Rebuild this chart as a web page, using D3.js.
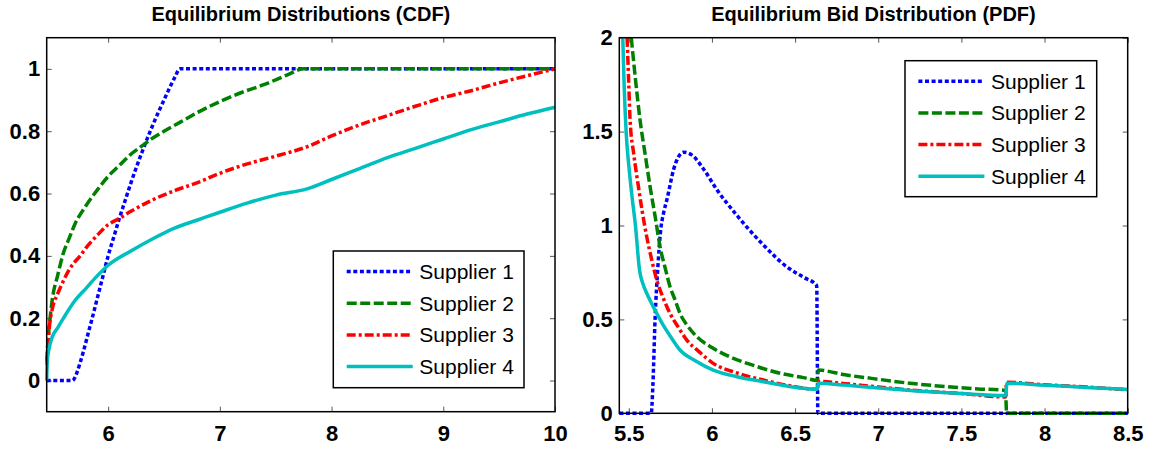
<!DOCTYPE html>
<html lang="en">
<head>
<meta charset="utf-8">
<title>Equilibrium Distributions</title>
<script src="https://d3js.org/d3.v7.min.js"></script>
<style>
  body { margin: 0; background: #fff; }
  svg text { font-family: "Liberation Sans", Arial, sans-serif; fill: #000; }
</style>
</head>
<body>
<div id="chart"></div>
<script>
// series names, one per supplier
const supplierNames = ["Supplier 1", "Supplier 2", "Supplier 3", "Supplier 4"];

// CDF panel: [bid, cumulative probability]
const cdfSupplier1 = [[5.45,0],[5.68,0],[5.70,0.008],[5.72,0.025],[5.75,0.058],[5.78,0.095],[5.82,0.15],[5.85,0.19],[5.9,0.26],[5.95,0.33],[6.0,0.40],[6.05,0.46],[6.1,0.52],[6.15,0.575],[6.2,0.63],[6.3,0.73],[6.4,0.82],[6.5,0.90],[6.6,0.975],[6.64,1.0],[10,1.0]];
const cdfSupplier2 = [[5.45,0.06],[5.46,0.12],[5.48,0.2],[5.5,0.26],[5.55,0.34],[5.6,0.41],[5.65,0.455],[5.7,0.5],[5.8,0.56],[5.9,0.61],[6.0,0.655],[6.1,0.69],[6.2,0.725],[6.3,0.752],[6.4,0.778],[6.5,0.80],[6.65,0.83],[6.8,0.86],[7.0,0.895],[7.2,0.925],[7.4,0.95],[7.6,0.98],[7.75,1.0],[10,1.0]];
const cdfSupplier3 = [[5.45,0.05],[5.46,0.11],[5.48,0.19],[5.5,0.23],[5.55,0.28],[5.6,0.32],[5.65,0.355],[5.7,0.38],[5.75,0.40],[5.8,0.425],[5.9,0.465],[6.0,0.5],[6.1,0.52],[6.2,0.542],[6.4,0.58],[6.6,0.61],[6.8,0.635],[7.0,0.665],[7.2,0.69],[7.5,0.72],[7.78,0.75],[8.0,0.785],[8.25,0.82],[8.5,0.85],[8.75,0.88],[9.0,0.908],[9.25,0.93],[9.5,0.955],[9.75,0.978],[10,1.0]];
const cdfSupplier4 = [[5.45,0],[5.455,0.06],[5.47,0.1],[5.5,0.14],[5.55,0.17],[5.6,0.2],[5.7,0.255],[5.8,0.295],[5.9,0.335],[6.0,0.37],[6.2,0.415],[6.4,0.455],[6.6,0.49],[6.8,0.515],[7.0,0.54],[7.25,0.57],[7.5,0.595],[7.78,0.615],[8.0,0.645],[8.25,0.68],[8.5,0.715],[8.75,0.745],[9.0,0.775],[9.25,0.805],[9.5,0.83],[9.75,0.855],[10,0.877]];

// PDF panel: [bid, density]
const pdfSupplier1 = [[5.443,0],[5.635,0],[5.645,0.15],[5.658,0.5],[5.675,0.78],[5.69,0.96],[5.71,1.07],[5.73,1.14],[5.77,1.3],[5.83,1.39],[5.88,1.375],[5.95,1.3],[6.03,1.19],[6.14,1.065],[6.3,0.905],[6.45,0.78],[6.55,0.725],[6.63,0.68],[6.637,0],[8.5,0]];
const pdfSupplier2 = [[5.515,2.0],[5.54,1.78],[5.568,1.56],[5.6,1.37],[5.628,1.207],[5.66,1.04],[5.688,0.887],[5.72,0.77],[5.748,0.674],[5.78,0.6],[5.808,0.532],[5.85,0.47],[5.909,0.408],[6.0,0.35],[6.109,0.30],[6.25,0.255],[6.41,0.213],[6.55,0.19],[6.633,0.175],[6.64,0.23],[6.8,0.205],[6.96,0.186],[7.19,0.16],[7.41,0.142],[7.6,0.13],[7.765,0.122],[7.772,0],[8.5,0]];
const pdfSupplier3 = [[5.49,2.0],[5.5,1.75],[5.508,1.56],[5.53,1.38],[5.558,1.207],[5.58,1.08],[5.608,0.94],[5.64,0.81],[5.668,0.71],[5.7,0.63],[5.748,0.532],[5.8,0.455],[5.849,0.39],[5.92,0.33],[6.008,0.266],[6.15,0.215],[6.309,0.177],[6.45,0.15],[6.633,0.128],[6.64,0.17],[6.8,0.158],[7.0,0.14],[7.25,0.12],[7.5,0.105],[7.765,0.087],[7.772,0.165],[8.0,0.152],[8.25,0.14],[8.5,0.125]];
const pdfSupplier4 = [[5.464,2.0],[5.472,1.75],[5.484,1.5],[5.5,1.32],[5.52,1.15],[5.54,1.0],[5.565,0.76],[5.585,0.69],[5.608,0.639],[5.64,0.58],[5.668,0.532],[5.7,0.48],[5.75,0.41],[5.808,0.337],[5.9,0.28],[6.008,0.23],[6.15,0.195],[6.309,0.168],[6.45,0.145],[6.633,0.128],[6.64,0.16],[6.8,0.15],[7.0,0.135],[7.25,0.118],[7.5,0.105],[7.765,0.095],[7.775,0.16],[8.0,0.15],[8.25,0.138],[8.5,0.127]];

// tick labels
const cdfXTicks = [6, 7, 8, 9, 10];
const cdfYTicks = [0, 0.2, 0.4, 0.6, 0.8, 1];
const pdfXTicks = [5.5, 6, 6.5, 7, 7.5, 8, 8.5];
const pdfYTicks = [0, 0.5, 1, 1.5, 2];

const width = 1156, height = 451;
const colors = ["#0000ff", "#008000", "#ff0000", "#00bfbf"];
const dashes = ["4,2.6", "10,3.5", "9,3,3,3", null];

const svg = d3.select("#chart").append("svg")
    .attr("width", width).attr("height", height)
    .style("display", "block");
svg.append("rect").attr("width", width).attr("height", height).attr("fill", "#fff");

function drawPanel(p) {
    const x = d3.scaleLinear().domain(p.xDomain).range([p.left, p.right]);
    const y = d3.scaleLinear().domain(p.yDomain).range([p.bottom, p.top]);
    const g = svg.append("g");

    // title
    g.append("text")
        .attr("x", (p.left + p.right) / 2).attr("y", 21)
        .attr("text-anchor", "middle")
        .style("font-size", "20px").style("font-weight", "bold")
        .text(p.title);

    // axes, ticks pointing inward like matlab
    const fmt = d3.format("~g");
    g.append("g").attr("transform", `translate(0,${p.bottom})`)
        .call(d3.axisBottom(x).tickValues(p.xTicks).tickFormat(fmt).tickSize(-5).tickPadding(p.xPad));
    g.append("g").attr("transform", `translate(${p.left},0)`)
        .call(d3.axisLeft(y).tickValues(p.yTicks).tickFormat(fmt).tickSize(-5).tickPadding(6.5));
    g.append("g").attr("transform", `translate(0,${p.top})`)
        .call(d3.axisTop(x).tickValues(p.xTicks).tickFormat("").tickSize(-5));
    g.append("g").attr("transform", `translate(${p.right},0)`)
        .call(d3.axisRight(y).tickValues(p.yTicks).tickFormat("").tickSize(-5));
    g.selectAll(".domain").remove();
    g.selectAll(".tick line").attr("stroke", "#555").attr("stroke-width", 1);
    g.selectAll(".tick text")
        .attr("fill", "#000")
        .style("font-size", "22px").style("font-weight", "bold")
        .style("font-family", '"Liberation Sans", Arial, sans-serif');

    const clipId = "clip" + p.id;
    svg.append("clipPath").attr("id", clipId)
        .append("rect")
        .attr("x", p.left - 2).attr("y", p.top - 1)
        .attr("width", p.right - p.left + 4).attr("height", p.bottom - p.top + 3);

    const line = d3.line()
        .x(d => x(d[0]))
        .y(d => y(d[1]))
        .curve(d3.curveMonotoneX);

    g.append("g").attr("clip-path", `url(#${clipId})`)
        .selectAll("path")
        .data(p.series)
        .join("path")
        .attr("fill", "none")
        .attr("stroke", (d, i) => colors[i])
        .attr("stroke-width", 3.5)
        .attr("stroke-dasharray", (d, i) => dashes[i])
        .attr("stroke-linejoin", "round")
        .attr("d", d => line(d));

    // frame
    g.append("rect")
        .attr("x", p.left).attr("y", p.top)
        .attr("width", p.right - p.left).attr("height", p.bottom - p.top)
        .attr("fill", "none").attr("stroke", "#000").attr("stroke-width", 1.5);

    // legend
    const lg = g.append("g").attr("transform", `translate(${p.legend.x},${p.legend.y})`);
    lg.append("rect")
        .attr("width", p.legend.w).attr("height", p.legend.h)
        .attr("fill", "#fff").attr("stroke", "#000").attr("stroke-width", 1.5);
    supplierNames.forEach((name, i) => {
        const cy = 20.5 + i * 31.7;
        lg.append("line")
            .attr("x1", 13.4).attr("x2", 79.4).attr("y1", cy).attr("y2", cy)
            .attr("stroke", colors[i]).attr("stroke-width", 3.5)
            .attr("stroke-dasharray", dashes[i]);
        lg.append("text")
            .attr("x", 86).attr("y", cy).attr("dy", "0.35em")
            .style("font-size", "21px")
            .text(name);
    });
}

drawPanel({
    id: "cdf", title: "Equilibrium Distributions (CDF)",
    left: 46.7, right: 555, top: 37.7, bottom: 411.7,
    xDomain: [5.45, 10], yDomain: [-0.1, 1.1],
    xTicks: cdfXTicks, yTicks: cdfYTicks, xPad: 14,
    series: [cdfSupplier1, cdfSupplier2, cdfSupplier3, cdfSupplier4],
    legend: {x: 333.3, y: 251, w: 190.7, h: 136.7}
});

drawPanel({
    id: "pdf", title: "Equilibrium Bid Distribution (PDF)",
    left: 619.3, right: 1127.7, top: 37.7, bottom: 413.3,
    xDomain: [5.443, 8.5], yDomain: [0, 2],
    xTicks: pdfXTicks, yTicks: pdfYTicks, xPad: 12.4,
    series: [pdfSupplier1, pdfSupplier2, pdfSupplier3, pdfSupplier4],
    legend: {x: 905, y: 60.7, w: 191.7, h: 136}
});
</script>
</body>
</html>
